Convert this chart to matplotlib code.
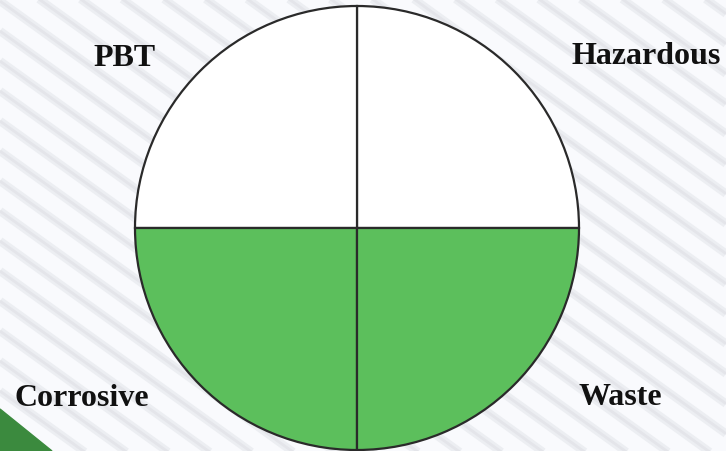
import numpy as np
import matplotlib.pyplot as plt

# data: four equal quadrants, counter-clockwise from 0 degrees
categories = ['Hazardous', 'PBT', 'Corrosive', 'Waste']
shares = [25, 25, 25, 25]
filled = [False, False, True, True]

label_xy = {'PBT': (124, 394), 'Hazardous': (646, 396),
            'Corrosive': (82, 53), 'Waste': (620, 54)}

W, H = 726, 452
fig = plt.figure(figsize=(W / 100, H / 100), dpi=100)
fig.patch.set_facecolor('#f9fafd')
ax = fig.add_axes([0, 0, 1, 1])
ax.set_facecolor('#f9fafd')

# faint diagonal stripes in the background (blurred look: wide+narrow pass)
slope = -0.72
for b in np.arange(-600, 1100, 30):
    xs = np.array([0, W])
    ax.plot(xs, b + slope * xs, color='#eceef2', lw=6, zorder=0,
            solid_capstyle='butt')
    ax.plot(xs, b + slope * xs, color='#e4e5ea', lw=2, zorder=0,
            solid_capstyle='butt')

# dark green corner triangle
ax.fill([0, 0, 52], [0, 42, 0], color='#3b8a3e', zorder=1)

green = '#5cbf5c'
colors = [green if f else 'white' for f in filled]
wedges, _ = ax.pie(shares, colors=colors, startangle=0, counterclock=True,
                   center=(357, 223), radius=222, frame=True,
                   wedgeprops=dict(edgecolor='#2a2a2a', linewidth=1.6))
for w in wedges:
    w.set_zorder(2)

for name in categories:
    x, y = label_xy[name]
    ax.text(x, y, name, ha='center', va='center', fontsize=23,
            fontweight='bold', family='Liberation Serif', color='#111111',
            zorder=3)

ax.set_xlim(0, W)
ax.set_ylim(0, H)
ax.set_aspect('auto')
ax.set_axis_off()

fig.savefig('out.png', dpi=100, facecolor=fig.get_facecolor())
